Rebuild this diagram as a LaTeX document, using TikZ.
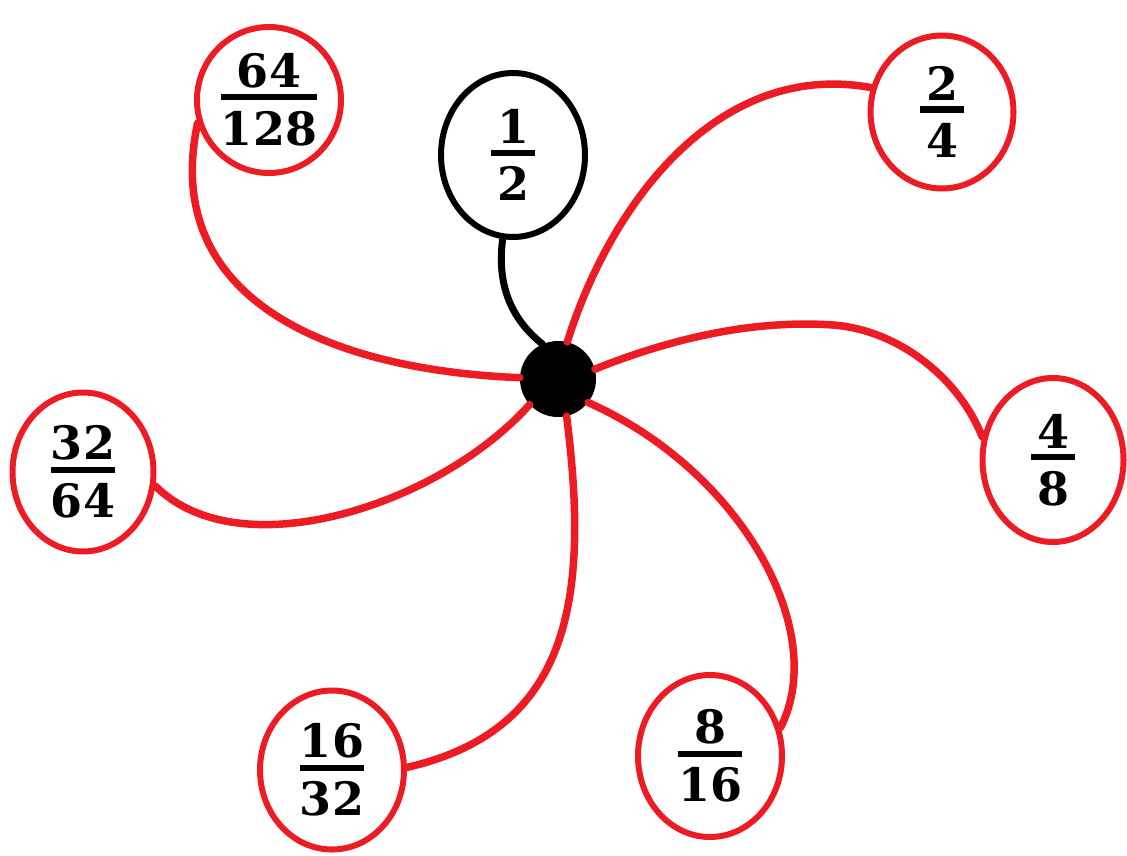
\documentclass[tikz,border=0pt]{standalone}
\usepackage{fontspec}
\newfontfamily\fracfont{DejaVu Serif}
\usetikzlibrary{shapes.geometric}
\definecolor{rd}{RGB}{237,28,36}
\newdimen\frw
\newcommand{\fr}[2]{%
 \setbox0\hbox{#1}\setbox2\hbox{#2}%
 \frw=44pt
 \ifdim\wd0>\frw \frw=\wd0\fi
 \ifdim\wd2>\frw \frw=\wd2\fi
 \vbox{\hbox to\frw{\hfil\box0\hfil}\kern6pt\hrule height 6pt\kern11pt\hbox to\frw{\hfil\box2\hfil}}}
\tikzset{
 fracell/.style={ellipse, draw=rd, line width=6pt, fill=white, inner sep=0pt,
   font=\fontsize{46}{54}\fracfont\bfseries},
 blackell/.style={fracell, draw=black},
 redlink/.style={draw=rd, line width=7.5pt, line cap=round},
 blacklink/.style={draw=black, line width=7pt, line cap=round},
 hubdot/.style={circle, fill=black, minimum size=76pt, inner sep=0pt}
}
\begin{document}
\begin{tikzpicture}[x=1pt,y=-1pt]
\useasboundingbox (0,0) rectangle (1127,856);
\node[hubdot] (hub) at (558,379) {};
\node[fracell, minimum width=144pt, minimum height=146pt] (q64) at (269,100) {\fr{64}{128}};
\node[blackell, minimum width=144pt, minimum height=164pt] (half) at (513,155) {\fr{1}{2}};
\node[fracell, minimum width=143pt, minimum height=153pt] (q2) at (942,112) {\fr{2}{4}};
\node[fracell, minimum width=141pt, minimum height=164pt] (q4) at (1053,460) {\fr{4}{8}};
\node[fracell, minimum width=141pt, minimum height=159pt] (q32) at (83,472) {\fr{32}{64}};
\node[fracell, minimum width=144pt, minimum height=159pt] (q16) at (332,770) {\fr{16}{32}};
\node[fracell, minimum width=144pt, minimum height=162pt] (q8) at (710,756) {\fr{8}{16}};
\draw[blacklink] (half.263) .. controls (496,290) and (515,322) .. (hub.114);
\draw[redlink] (q64.198) .. controls (160,300) and (330,370) .. (hub.178);
\draw[redlink] (hub.76) .. controls (612,200) and (720,60) .. (q2.161);
\draw[redlink] (hub.15) .. controls (680,335) and (760,320) .. (833,325) .. controls (900,330) and (960,380) .. (q4.162);
\draw[redlink] (hub.222) .. controls (440,505) and (240,570) .. (q32.349);
\draw[redlink] (hub.-77) .. controls (590,600) and (570,730) .. (q16.2);
\draw[redlink] (hub.-38) .. controls (740,470) and (830,630) .. (q8.22);
\end{tikzpicture}
\end{document}
